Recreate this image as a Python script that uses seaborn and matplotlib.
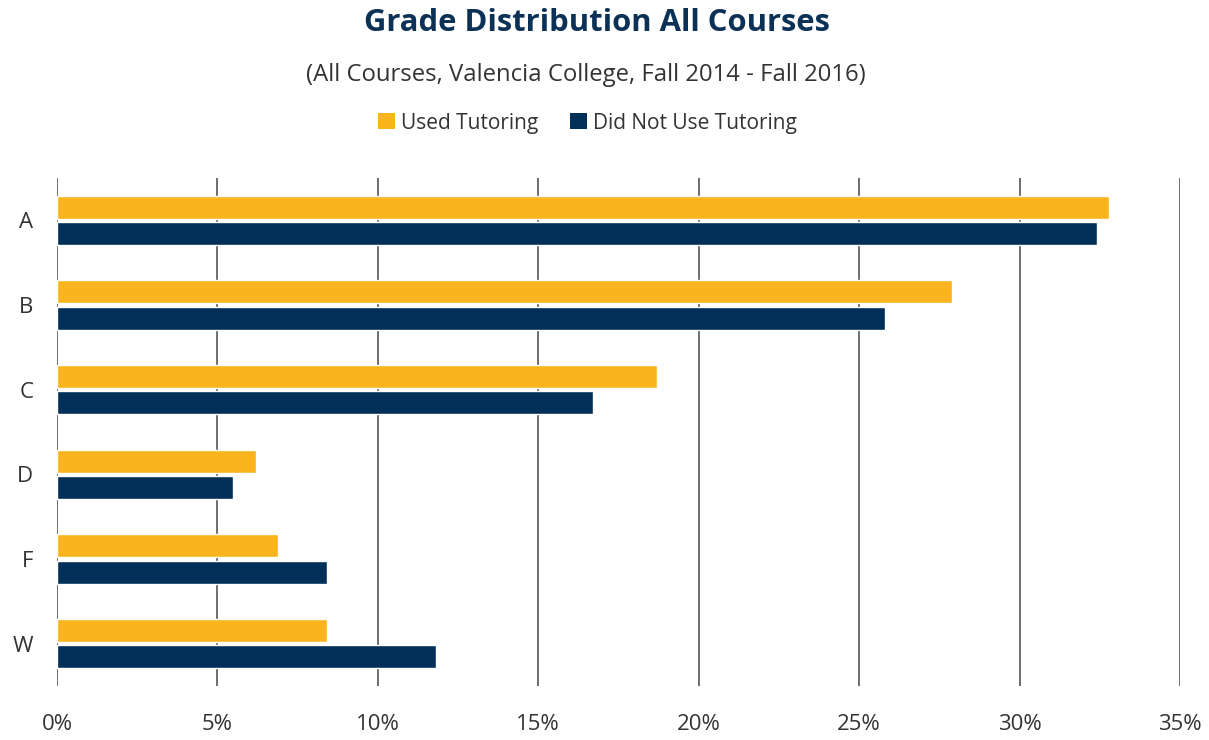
"Grade distribution chart: tutoring vs no tutoring"

import pandas as pd
import seaborn as sns
import matplotlib.pyplot as plt
from matplotlib.patches import Patch
from matplotlib.ticker import FuncFormatter

grades = ["A", "B", "C", "D", "F", "W"]
used_tutoring = [32.8, 27.9, 18.7, 6.2, 6.9, 8.4]
no_tutoring = [32.4, 25.8, 16.7, 5.5, 8.4, 11.8]
groups = ["Used Tutoring", "Did Not Use Tutoring"]
colors = ["#FBB41E", "#003057"]

df = pd.DataFrame({
    "Grade": grades * 2,
    "Percent": used_tutoring + no_tutoring,
    "Group": [groups[0]] * len(grades) + [groups[1]] * len(grades),
})

sns.set_theme(style="white")
plt.rcParams["font.family"] = ["Open Sans", "DejaVu Sans"]

fig = plt.figure(figsize=(12.09, 7.40), dpi=100)
ax = fig.add_axes([57 / 1209, 1 - 686 / 740, (1180 - 57) / 1209, (686 - 178) / 740])

sns.barplot(data=df, y="Grade", x="Percent", hue="Group", order=grades,
            hue_order=groups, palette=colors, orient="h", width=0.62, gap=0.12,
            saturation=1, legend=False, ax=ax)

ax.set_xlim(0, 35)
ax.set_ylim(5.5, -0.5)
ax.set_xticks(range(0, 36, 5))
ax.xaxis.set_major_formatter(FuncFormatter(lambda v, p: f"{v:.0f}%"))
ax.grid(axis="x", color="#555555", linewidth=1.2)
ax.set_axisbelow(True)
for s in ax.spines.values():
    s.set_visible(False)
ax.tick_params(axis="x", length=0, pad=20, labelsize=16, labelcolor="#333333")
ax.tick_params(axis="y", length=0, pad=17, labelsize=16, labelcolor="#333333")
ax.set_xlabel("")
ax.set_ylabel("")

fig.text(0.494, 1 - 23 / 740, "Grade Distribution All Courses", ha="center", va="center",
         fontsize=22.3, fontweight="bold", color="#0B3157")
fig.text(0.485, 1 - 75 / 740, "(All Courses, Valencia College, Fall 2014 - Fall 2016)",
         ha="center", va="center", fontsize=17.2, color="#333333")

handles = [Patch(facecolor=c, edgecolor="none") for c in colors]
fig.legend(handles, groups, loc="center", bbox_to_anchor=(0.486, 1 - 123 / 740), ncol=2,
           frameon=False, fontsize=15, handlelength=0.8, handleheight=0.8,
           handletextpad=0.3, columnspacing=1.5, labelcolor="#333333")

fig.savefig("out.png", dpi=100)
